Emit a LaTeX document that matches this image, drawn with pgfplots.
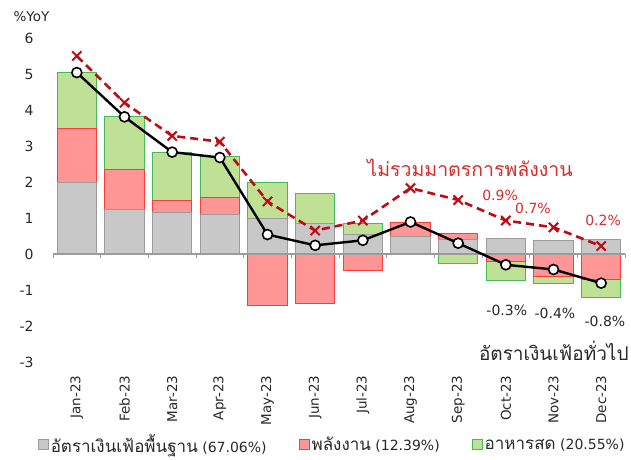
\documentclass[border=0pt]{standalone}
\usepackage{fontspec}
\setmainfont{DejaVu Sans}
\newfontfamily\thaifont[Script=Thai]{Loma}
\usepackage{pgfplots}
\usepackage{pgfplotstable}
\pgfplotsset{compat=1.18}
\definecolor{coreF}{RGB}{200,200,200}
\definecolor{coreD}{RGB}{155,155,155}
\definecolor{enF}{RGB}{255,150,150}
\definecolor{enD}{RGB}{250,60,60}
\definecolor{fdF}{RGB}{190,225,150}
\definecolor{fdD}{RGB}{70,185,90}
\definecolor{exR}{RGB}{192,10,20}
\definecolor{lblR}{RGB}{215,45,45}
\definecolor{txt}{RGB}{40,40,40}

\pgfplotstableread{
x  core enpos enneg fdpos fdneg head  excl
0  2.00 1.50  0     1.54  0     5.04  5.50
1  1.25 1.09  0     1.47  0     3.81  4.20
2  1.14 0.36  0     1.33  0     2.83  3.28
3  1.09 0.47  0     1.14  0     2.68  3.12
4  1.00 0     -1.42 0.98  0     0.54  1.46
5  0.86 0     -1.38 0.81  0     0.24  0.65
6  0.55 0     -0.45 0.30  0     0.38  0.93
7  0.50 0.38  0     0     0     0.89  1.83
8  0.40 0.17  0     0     -0.27 0.30  1.50
9  0.44 0     -0.22 0     -0.52 -0.30 0.93
10 0.38 0     -0.62 0     -0.20 -0.43 0.74
11 0.40 0     -0.71 0     -0.49 -0.81 0.22
}\data

\begin{document}
\begin{tikzpicture}
\useasboundingbox (0,0) rectangle (631bp,460bp);
\begin{axis}[
  at={(53bp,98bp)}, anchor=south west,
  scale only axis, width=572bp, height=324bp,
  xmin=-0.5, xmax=11.5, ymin=-3, ymax=6,
  axis line style={draw=none},
  xtick={0,...,11},
  xticklabels={Jan-23,Feb-23,Mar-23,Apr-23,May-23,Jun-23,Jul-23,Aug-23,Sep-23,Oct-23,Nov-23,Dec-23},
  ytick={-3,...,6},
  major tick length=0pt,
  tick label style={font=\fontsize{13.5bp}{15bp}\selectfont, text=txt},
  xticklabel style={rotate=90, anchor=east, xshift=-10bp},
  yticklabel style={anchor=east, xshift=-16bp, font=\fontsize{14bp}{16bp}\selectfont},
  /pgf/number format/assume math mode=true,
  clip=false,
  legend columns=3,
  legend style={draw=none, fill=none, at={(0.488,-0.255)}, anchor=center,
    font=\fontsize{14bp}{15bp}\selectfont, text=txt,
    /tikz/every even column/.append style={column sep=30bp}},
  legend image code/.code={\draw[#1, line width=1bp] (0bp,-5bp) rectangle (10bp,5bp);},
]
% positive stacks (overlay from tallest to shortest)
\addplot[ybar, bar width=0.82, bar shift=0pt, fill=fdF, draw=fdD, line width=1bp, forget plot]
  table[x=x, y expr=\thisrow{core}+\thisrow{enpos}+\thisrow{fdpos}] {\data};
\addplot[ybar, bar width=0.82, bar shift=0pt, fill=enF, draw=enD, line width=1bp, forget plot]
  table[x=x, y expr=\thisrow{core}+\thisrow{enpos}] {\data};
\addplot[ybar, bar width=0.82, bar shift=0pt, fill=coreF, draw=coreD, line width=1bp, forget plot]
  table[x=x, y=core] {\data};
% negative stacks
\addplot[ybar, bar width=0.82, bar shift=0pt, fill=fdF, draw=fdD, line width=1bp, forget plot,
  y filter/.expression={y==0 ? nan : y}, unbounded coords=discard]
  table[x=x, y expr=\thisrow{enneg}+\thisrow{fdneg}] {\data};
\addplot[ybar, bar width=0.82, bar shift=0pt, fill=enF, draw=enD, line width=1bp, forget plot,
  y filter/.expression={y==0 ? nan : y}, unbounded coords=discard]
  table[x=x, y=enneg] {\data};
% zero line with boundary ticks
\draw[coreD, line width=1.3bp] (axis cs:-0.5,0) -- (axis cs:11.5,0);
\pgfplotsinvokeforeach{-0.5,0.5,...,11.5}{\draw[coreD, line width=1bp] (axis cs:#1,0) -- ([yshift=-4bp]axis cs:#1,0);}
% lines
\addplot[sharp plot, exR, line width=2.6bp, dash pattern=on 8bp off 5bp, mark=x, mark size=6.5bp,
  mark options={solid, line width=2bp}, forget plot]
  table[x=x, y=excl] {\data};
\addplot[sharp plot, black, line width=2.4bp, mark=*, mark size=5bp,
  mark options={fill=white, draw=black, line width=1.6bp}, forget plot]
  table[x=x, y=head] {\data};
% legend
\addlegendimage{fill=coreF, draw=coreD}
\addlegendentry{{\thaifont\fontsize{17bp}{15bp}\selectfont อัตราเงินเฟ้อพื้นฐาน} (67.06\%)}
\addlegendimage{fill=enF, draw=enD}
\addlegendentry{{\thaifont\fontsize{17bp}{15bp}\selectfont พลังงาน} (12.39\%)}
\addlegendimage{fill=fdF, draw=fdD}
\addlegendentry{{\thaifont\fontsize{17bp}{15bp}\selectfont อาหารสด} (20.55\%)}
% annotations
\node[lblR, font=\thaifont\fontsize{19.5bp}{21bp}\selectfont] at (axis cs:8.25,2.4) {ไม่รวมมาตรการพลังงาน};
\node[lblR, font=\fontsize{14bp}{16bp}\selectfont] at (axis cs:8.88,1.62) {0.9\%};
\node[lblR, font=\fontsize{14bp}{16bp}\selectfont] at (axis cs:9.57,1.28) {0.7\%};
\node[lblR, font=\fontsize{14bp}{16bp}\selectfont] at (axis cs:11.04,0.92) {0.2\%};
\node[txt, font=\fontsize{14bp}{16bp}\selectfont] at (axis cs:9.02,-1.56) {-0.3\%};
\node[txt, font=\fontsize{14bp}{16bp}\selectfont] at (axis cs:10.03,-1.64) {-0.4\%};
\node[txt, font=\fontsize{14bp}{16bp}\selectfont] at (axis cs:11.08,-1.87) {-0.8\%};
\node[txt, anchor=east, inner sep=1bp, font=\thaifont\fontsize{19bp}{21bp}\selectfont] at (axis cs:11.6,-2.68) {อัตราเงินเฟ้อทั่วไป};
\node[txt, anchor=west, font=\fontsize{13.5bp}{15bp}\selectfont] at (axis cs:-1.40,6.6) {\%YoY};
\end{axis}
\end{tikzpicture}
\end{document}
